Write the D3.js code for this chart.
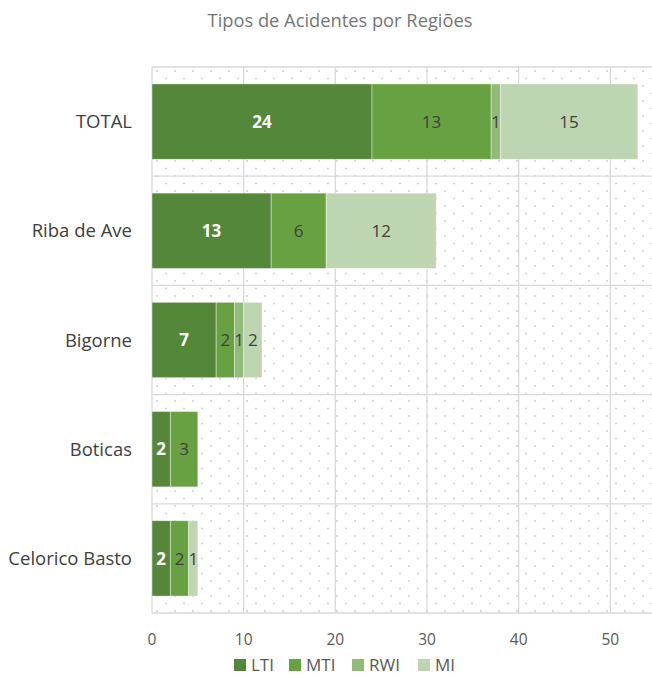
<!DOCTYPE html>
<html>
<head>
<meta charset="utf-8">
<script src="https://cdn.jsdelivr.net/npm/d3@7"></script>
<style>
  body { margin: 0; background: #fff; }
  svg { font-family: "Open Sans", "Liberation Sans", sans-serif; }
</style>
</head>
<body>
<svg id="canvas" width="652" height="678"></svg>
<script>
// data
const regions = ["TOTAL", "Riba de Ave", "Bigorne", "Boticas", "Celorico Basto"]
const seriesNames = ["LTI", "MTI", "RWI", "MI"]
const lti = [24, 13, 7, 2, 2]
const mti = [13, 6, 2, 3, 2]
const rwi = [1, 0, 1, 0, 0]
const mi  = [15, 12, 2, 0, 1]
const xTicks = [0, 10, 20, 30, 40, 50]
const colors = ["#55873a", "#68a142", "#91bb78", "#bdd5b1"]

const rows = regions.map((r, i) => ({region: r, LTI: lti[i], MTI: mti[i], RWI: rwi[i], MI: mi[i]}))

const svg = d3.select('#canvas')
const plotLeft = 152, plotTop = 67, plotBottom = 613

const x = d3.scaleLinear().domain([0, 60]).range([plotLeft, plotLeft + 550])
const y = d3.scaleBand().domain(regions).range([plotTop, plotBottom]).paddingInner(0.31).paddingOuter(0.155)

// dotted background
const defs = svg.append('defs')
const pat = defs.append('pattern')
  .attr('id', 'dots')
  .attr('patternUnits', 'userSpaceOnUse')
  .attr('width', 18).attr('height', 15)
  .attr('x', plotLeft + 4).attr('y', plotTop + 3)
pat.append('circle').attr('cx', 1).attr('cy', 1).attr('r', 0.9).attr('fill', '#c9c9c9')
pat.append('circle').attr('cx', 10).attr('cy', 8.5).attr('r', 0.9).attr('fill', '#c9c9c9')

svg.append('rect')
  .attr('x', plotLeft).attr('y', plotTop)
  .attr('width', 652 - plotLeft).attr('height', plotBottom - plotTop)
  .attr('fill', 'url(#dots)')

// grid
const grid = svg.append('g').attr('stroke', '#d9d9d9').attr('stroke-width', 1.3)
grid.selectAll('line.v')
  .data(xTicks.concat([60]))
  .enter().append('line')
  .attr('x1', d => x(d)).attr('x2', d => x(d))
  .attr('y1', plotTop).attr('y2', plotBottom)
const rowH = (plotBottom - plotTop) / regions.length
grid.selectAll('line.h')
  .data(d3.range(regions.length + 1))
  .enter().append('line')
  .attr('x1', plotLeft).attr('x2', 652)
  .attr('y1', i => plotTop + i * rowH)
  .attr('y2', i => plotTop + i * rowH)

// bars
const stack = d3.stack().keys(seriesNames)(rows)
const layer = svg.selectAll('g.layer')
  .data(stack)
  .enter().append('g')
  .attr('fill', (d, i) => colors[i])

layer.selectAll('rect')
  .data(d => d.filter(s => s[1] - s[0] > 0))
  .enter().append('rect')
  .attr('x', d => x(d[0]))
  .attr('y', d => y(d.data.region))
  .attr('width', d => x(d[1]) - x(d[0]))
  .attr('height', y.bandwidth())
  .attr('stroke', 'rgba(255,255,255,0.5)')
  .attr('stroke-width', 0.8)

// data labels
stack.forEach((s, si) => {
  svg.append('g').selectAll('text')
    .data(s.filter(d => d[1] - d[0] > 0))
    .enter().append('text')
    .attr('x', d => x((d[0] + d[1]) / 2))
    .attr('y', d => y(d.data.region) + y.bandwidth() / 2)
    .attr('dy', '0.36em')
    .attr('text-anchor', 'middle')
    .attr('font-size', 17)
    .attr('font-weight', si == 0 ? 'bold' : 'normal')
    .attr('fill', si == 0 ? '#ffffff' : '#404040')
    .text(d => d[1] - d[0])
})

// category labels
svg.append('g').selectAll('text')
  .data(regions)
  .enter().append('text')
  .attr('x', 132)
  .attr('y', d => y(d) + y.bandwidth() / 2)
  .attr('dy', '0.36em')
  .attr('text-anchor', 'end')
  .attr('font-size', 18.5)
  .attr('fill', '#404040')
  .text(d => d)

// x axis labels
svg.append('g').selectAll('text')
  .data(xTicks)
  .enter().append('text')
  .attr('x', d => x(d))
  .attr('y', 639)
  .attr('dy', '0.36em')
  .attr('text-anchor', 'middle')
  .attr('font-size', 15.5)
  .attr('fill', '#595959')
  .text(d => d)

// title
svg.append('text')
  .attr('x', 340).attr('y', 20)
  .attr('dy', '0.36em')
  .attr('text-anchor', 'middle')
  .attr('font-size', 18.3)
  .attr('fill', '#757575')
  .text('Tipos de Acidentes por Regiões')

// legend
const legX = [234, 289, 352, 418]
const leg = svg.append('g').selectAll('g')
  .data(seriesNames)
  .enter().append('g')
  .attr('transform', (d, i) => `translate(${legX[i]},665)`)
leg.append('rect')
  .attr('x', 0).attr('y', -6)
  .attr('width', 12).attr('height', 12)
  .attr('fill', (d, i) => colors[i])
leg.append('text')
  .attr('x', 17).attr('y', 0)
  .attr('dy', '0.36em')
  .attr('font-size', 17)
  .attr('fill', '#595959')
  .text(d => d)
</script>
</body>
</html>
